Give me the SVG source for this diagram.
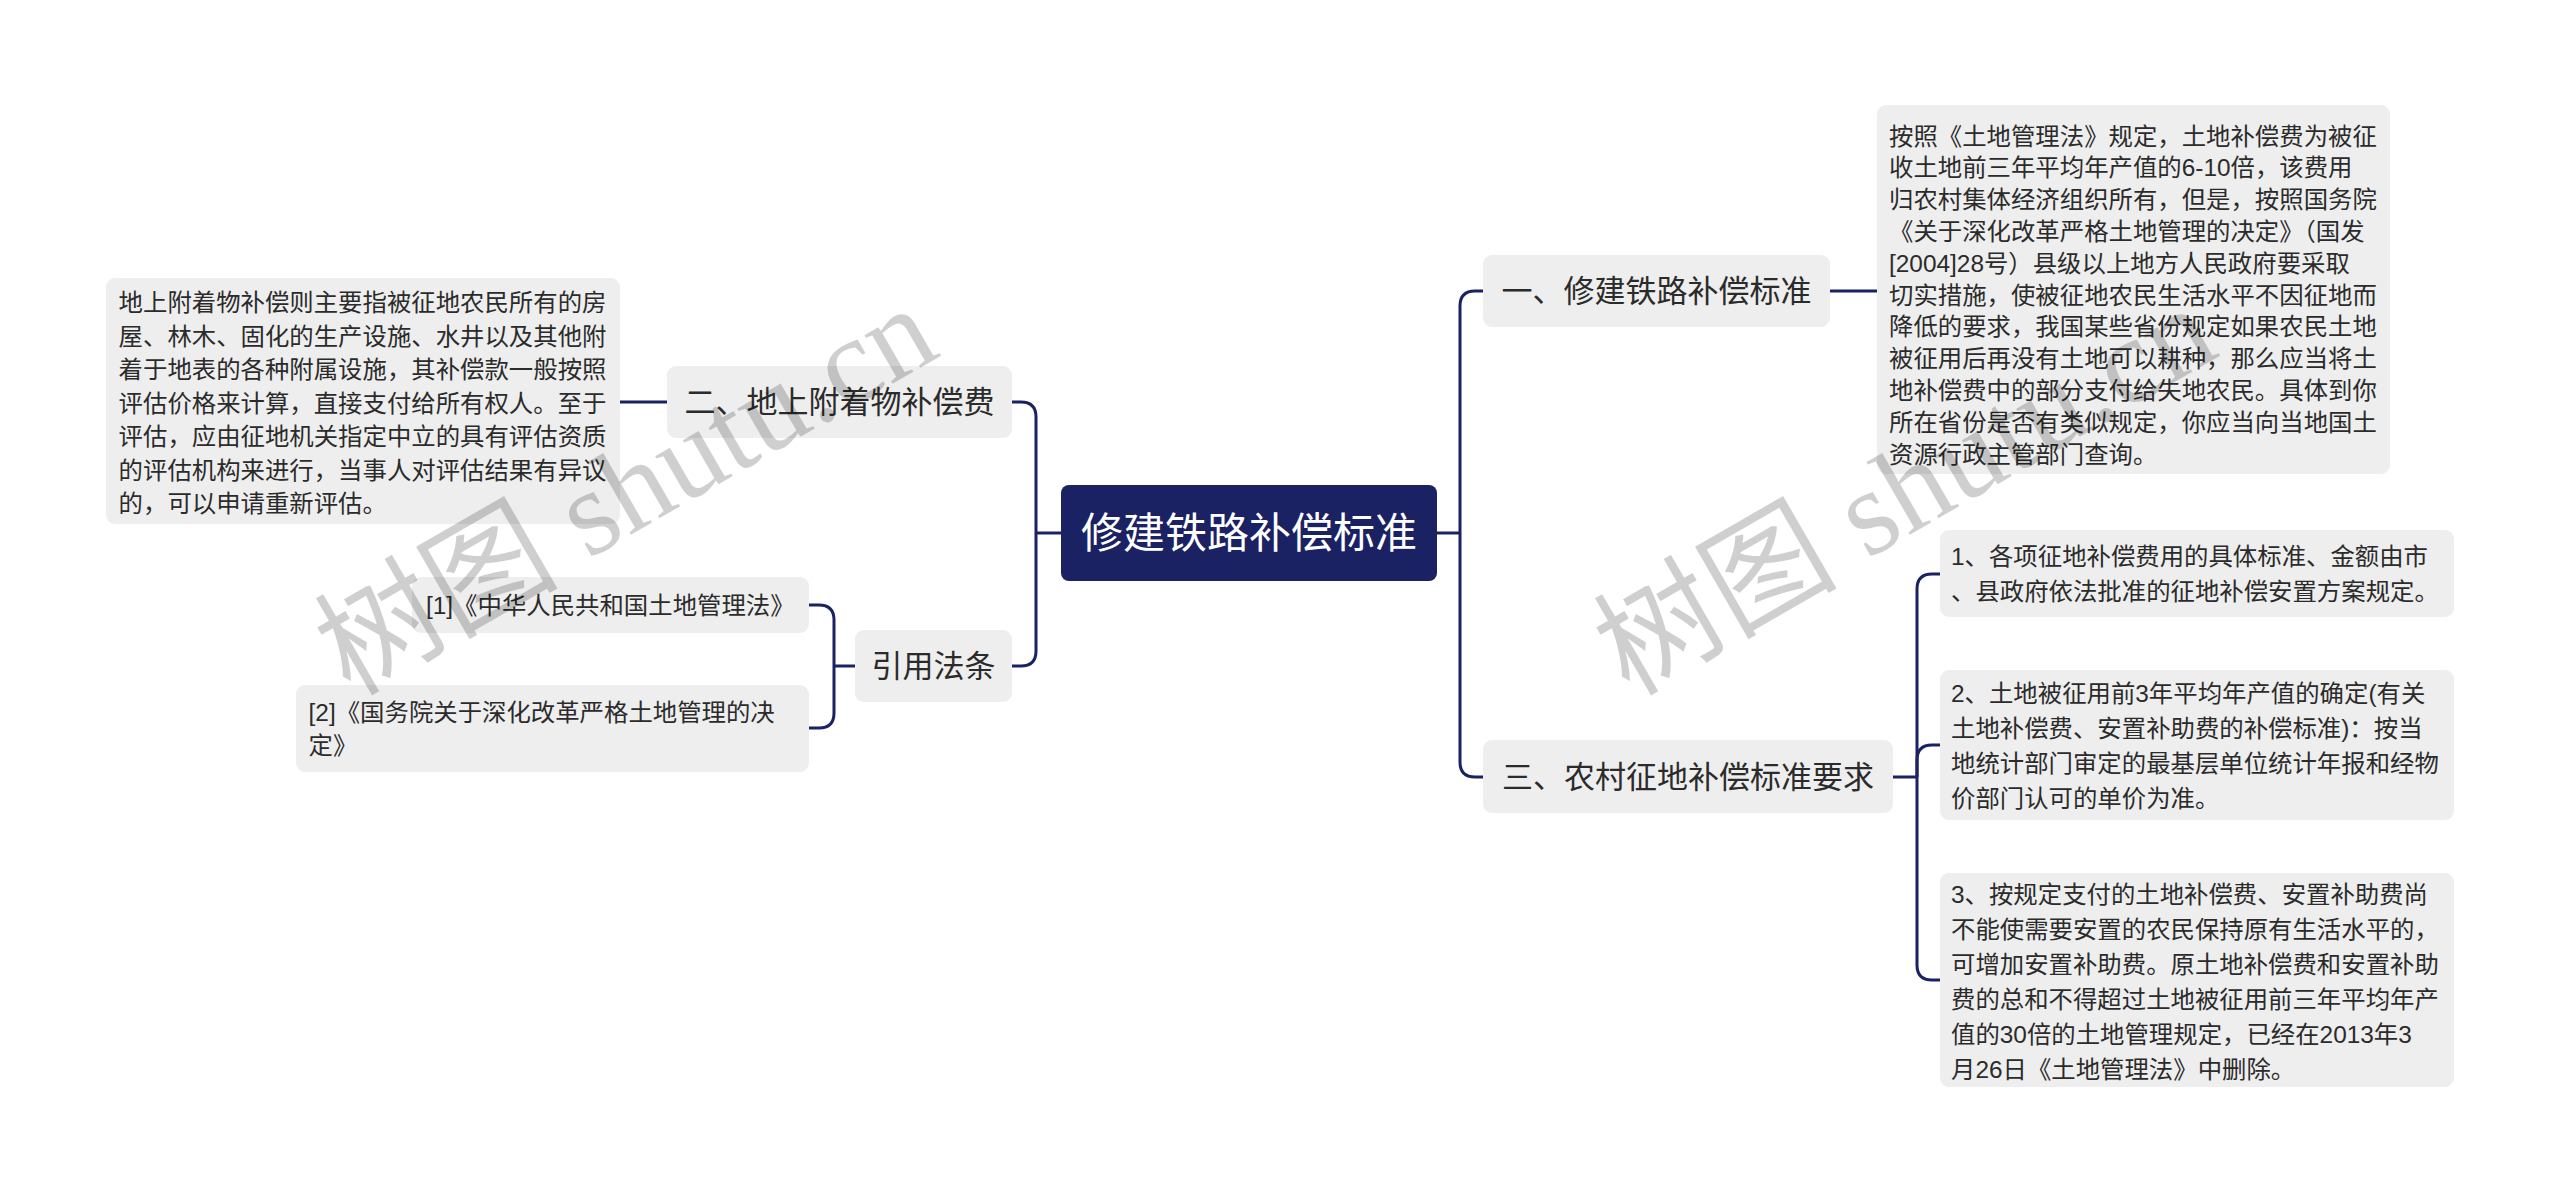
<svg xmlns="http://www.w3.org/2000/svg" width="2560" height="1192" viewBox="0 0 2560 1192">
<style>
.box{fill:#eeeeee}
.t{font-family:"Liberation Sans","Noto Sans CJK SC",sans-serif;fill:#2b2b2b}
.d{font-size:24.4px}
.n{font-size:31px;text-anchor:middle}
.c{font-family:"Liberation Sans","Noto Sans CJK SC",sans-serif;font-size:42px;fill:#ffffff;text-anchor:middle}
.ln{fill:none;stroke:#1b2263;stroke-width:3}
.wm{font-family:"Liberation Serif","Noto Sans CJK SC",serif;font-size:122px;fill:#000000;fill-opacity:0.19}
</style>
<rect width="2560" height="1192" fill="#ffffff"/>
<g id="connectors">
<path class="ln" d="M1061,533 H1036"/>
<path class="ln" d="M1036,533 V417 Q1036,402 1021,402 H1012"/>
<path class="ln" d="M1036,533 V651 Q1036,666 1021,666 H1012"/>
<path class="ln" d="M667,402 H620"/>
<path class="ln" d="M855,666 H834"/>
<path class="ln" d="M834,666 V620 Q834,605 819,605 H809"/>
<path class="ln" d="M834,666 V713 Q834,728 819,728 H809"/>
<path class="ln" d="M1437,533 H1460"/>
<path class="ln" d="M1460,533 V306 Q1460,291 1475,291 H1483"/>
<path class="ln" d="M1460,533 V762 Q1460,777 1475,777 H1483"/>
<path class="ln" d="M1830,291 H1877"/>
<path class="ln" d="M1893,777 H1917"/>
<path class="ln" d="M1917,777 V589 Q1917,574 1932,574 H1940"/>
<path class="ln" d="M1917,777 V760 Q1917,745 1932,745 H1940"/>
<path class="ln" d="M1917,777 V965 Q1917,980 1932,980 H1940"/>
</g>
<g id="root">
<rect x="1061" y="485" width="376" height="96" rx="8" fill="#1b2263"/>
<text class="c" x="1249" y="548">修建铁路补偿标准</text>
</g>
<g id="n1">
<rect class="box" x="1483" y="255" width="347" height="72" rx="9"/>
<text class="t n" x="1656.5" y="302">一、修建铁路补偿标准</text>
</g>
<g id="n1-detail">
<rect class="box" x="1877" y="105" width="513" height="369" rx="9"/>
<text class="t d" x="1889" y="144.5"><tspan x="1889">按照《土地管理法》规定，土地补偿费为被征</tspan><tspan x="1889" dy="31.8">收土地前三年平均年产值的6-10倍，该费用</tspan><tspan x="1889" dy="31.8">归农村集体经济组织所有，但是，按照国务院</tspan><tspan x="1889" dy="31.8">《关于深化改革严格土地管理的决定》（国发</tspan><tspan x="1889" dy="31.8">[2004]28号）县级以上地方人民政府要采取</tspan><tspan x="1889" dy="31.8">切实措施，使被征地农民生活水平不因征地而</tspan><tspan x="1889" dy="31.8">降低的要求，我国某些省份规定如果农民土地</tspan><tspan x="1889" dy="31.8">被征用后再没有土地可以耕种，那么应当将土</tspan><tspan x="1889" dy="31.8">地补偿费中的部分支付给失地农民。具体到你</tspan><tspan x="1889" dy="31.8">所在省份是否有类似规定，你应当向当地国土</tspan><tspan x="1889" dy="31.8">资源行政主管部门查询。</tspan></text>
</g>
<g id="n2">
<rect class="box" x="667" y="366" width="345" height="72" rx="9"/>
<text class="t n" x="839.5" y="413">二、地上附着物补偿费</text>
</g>
<g id="n2-detail">
<rect class="box" x="106" y="278" width="514" height="246" rx="9"/>
<text class="t d" x="118.6" y="311"><tspan x="118.6">地上附着物补偿则主要指被征地农民所有的房</tspan><tspan x="118.6" dy="33.5">屋、林木、固化的生产设施、水井以及其他附</tspan><tspan x="118.6" dy="33.5">着于地表的各种附属设施，其补偿款一般按照</tspan><tspan x="118.6" dy="33.5">评估价格来计算，直接支付给所有权人。至于</tspan><tspan x="118.6" dy="33.5">评估，应由征地机关指定中立的具有评估资质</tspan><tspan x="118.6" dy="33.5">的评估机构来进行，当事人对评估结果有异议</tspan><tspan x="118.6" dy="33.5">的，可以申请重新评估。</tspan></text>
</g>
<g id="n3">
<rect class="box" x="1483" y="740" width="410" height="73" rx="9"/>
<text class="t n" x="1688" y="788">三、农村征地补偿标准要求</text>
</g>
<g id="n3-c1">
<rect class="box" x="1940" y="530" width="514" height="87" rx="9"/>
<text class="t d" x="1951" y="565"><tspan x="1951">1、各项征地补偿费用的具体标准、金额由市</tspan><tspan x="1951" dy="35">、县政府依法批准的征地补偿安置方案规定。</tspan></text>
</g>
<g id="n3-c2">
<rect class="box" x="1940" y="670" width="514" height="150" rx="9"/>
<text class="t d" x="1951" y="702"><tspan x="1951">2、土地被征用前3年平均年产值的确定(有关</tspan><tspan x="1951" dy="35">土地补偿费、安置补助费的补偿标准)：按当</tspan><tspan x="1951" dy="35">地统计部门审定的最基层单位统计年报和经物</tspan><tspan x="1951" dy="35">价部门认可的单价为准。</tspan></text>
</g>
<g id="n3-c3">
<rect class="box" x="1940" y="873" width="514" height="214" rx="9"/>
<text class="t d" x="1951" y="903"><tspan x="1951">3、按规定支付的土地补偿费、安置补助费尚</tspan><tspan x="1951" dy="35">不能使需要安置的农民保持原有生活水平的，</tspan><tspan x="1951" dy="35">可增加安置补助费。原土地补偿费和安置补助</tspan><tspan x="1951" dy="35">费的总和不得超过土地被征用前三年平均年产</tspan><tspan x="1951" dy="35">值的30倍的土地管理规定，已经在2013年3</tspan><tspan x="1951" dy="35">月26日《土地管理法》中删除。</tspan></text>
</g>
<g id="n4">
<rect class="box" x="855" y="630" width="157" height="72" rx="9"/>
<text class="t n" x="933.5" y="677">引用法条</text>
</g>
<g id="n4-r1">
<rect class="box" x="412" y="577" width="397" height="56" rx="9"/>
<text class="t d" x="426" y="614">[1]《中华人民共和国土地管理法》</text>
</g>
<g id="n4-r2">
<rect class="box" x="296" y="685" width="513" height="87" rx="9"/>
<text class="t d" x="308.6" y="721"><tspan x="308.6">[2]《国务院关于深化改革严格土地管理的决</tspan><tspan x="308.6" dy="33">定》</tspan></text>
</g>
<g id="watermarks">
<text class="wm" transform="translate(350,697) rotate(-30)">树图 shutu.cn</text>
<text class="wm" transform="translate(1629,697) rotate(-30)">树图 shutu.cn</text>
</g>
</svg>
